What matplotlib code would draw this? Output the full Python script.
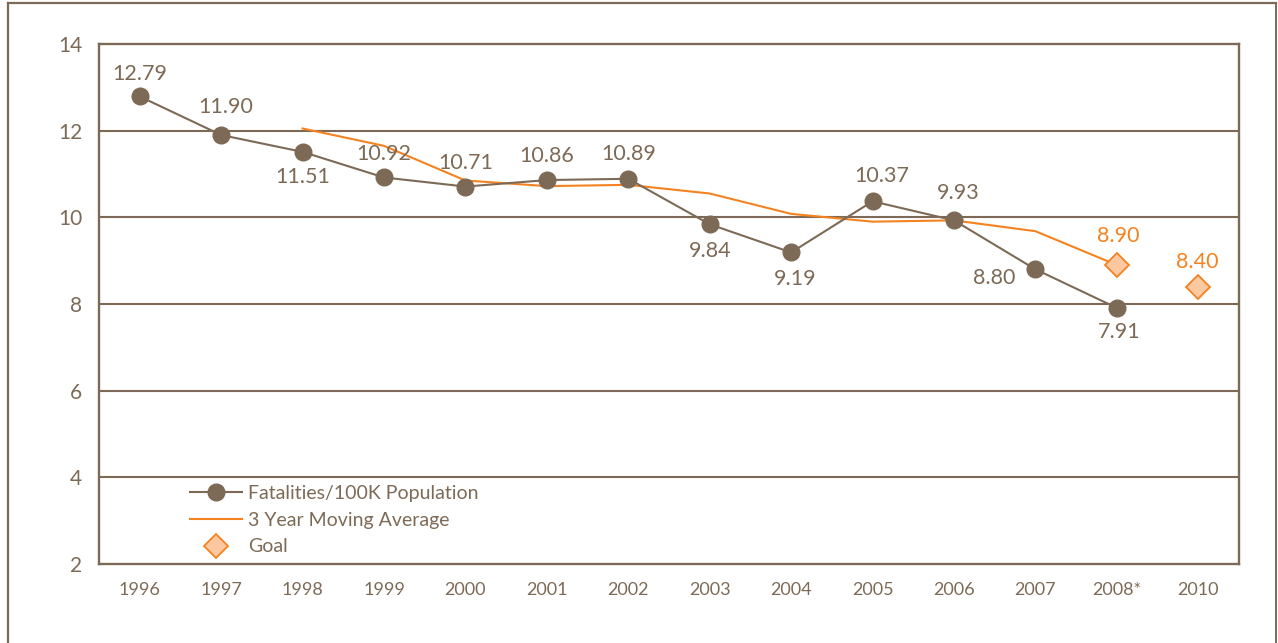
import matplotlib
matplotlib.use("Agg")
import matplotlib.pyplot as plt
from matplotlib.lines import Line2D

# --- data -------------------------------------------------------------
years = ["1996", "1997", "1998", "1999", "2000", "2001", "2002",
         "2003", "2004", "2005", "2006", "2007", "2008*", "2010"]
fatality_rate = [12.79, 11.90, 11.51, 10.92, 10.71, 10.86, 10.89,
                 9.84, 9.19, 10.37, 9.93, 8.80, 7.91]
moving_avg = [12.05, 11.65, 10.85, 10.72, 10.75, 10.55, 10.08,
              9.90, 9.93, 9.68, 8.90]          # 1998 .. 2008
goal_years = ["2008*", "2010"]
goal_values = [8.90, 8.40]
yticks = [2, 4, 6, 8, 10, 12, 14]

# label placement (offset in points from each point)
rate_label_offsets = [(0, 16), (3, 20), (0, -18), (0, 17), (0, 17), (0, 17),
                      (0, 18), (0, -19), (3, -19), (7, 18), (3, 20),
                      (-30, -6), (2, -17)]
goal_label_offsets = [(1, 21), (-1, 18)]

BROWN = "#7d6a56"
ORANGE = "#f58220"
GOAL_FILL = "#fcc8a0"

plt.rcParams["font.family"] = ["Lato", "DejaVu Sans"]

fig = plt.figure(figsize=(12.78, 6.43), dpi=100)
ax = fig.add_axes([99 / 1278, 79 / 643, 1140 / 1278, 520 / 643])

x_all = list(range(len(years)))
idx = {y: i for i, y in enumerate(years)}
x_rate = x_all[:len(fatality_rate)]
x_avg = x_all[2:2 + len(moving_avg)]
x_goal = [idx[g] for g in goal_years]

# horizontal grid
for v in yticks[1:-1]:
    ax.axhline(v, color=BROWN, lw=1.5, zorder=1)

ax.plot(x_avg, moving_avg, color=ORANGE, lw=1.5, zorder=2)
ax.plot(x_rate, fatality_rate, color=BROWN, lw=1.5, marker="o",
        markersize=12, markerfacecolor=BROWN, markeredgecolor=BROWN, zorder=3)
ax.plot(x_goal, goal_values, linestyle="none", marker="D", markersize=12,
        markerfacecolor=GOAL_FILL, markeredgecolor=ORANGE,
        markeredgewidth=1.3, zorder=4)

for xi, v, off in zip(x_rate, fatality_rate, rate_label_offsets):
    ax.annotate(f"{v:.2f}", (xi, v), xytext=off, textcoords="offset points",
                ha="center", va="center", fontsize=15.5, color=BROWN)
for xi, v, off in zip(x_goal, goal_values, goal_label_offsets):
    ax.annotate(f"{v:.2f}", (xi, v), xytext=off, textcoords="offset points",
                ha="center", va="center", fontsize=15.5, color=ORANGE)

ax.set_xlim(-0.5, len(years) - 0.5)
ax.set_ylim(2, 14)
ax.set_xticks(x_all)
ax.set_xticklabels(years)
ax.set_yticks(yticks)
ax.tick_params(axis="both", length=0, colors=BROWN)
ax.tick_params(axis="x", pad=13, labelsize=13)
ax.tick_params(axis="y", pad=12, labelsize=15)
for s in ax.spines.values():
    s.set_color(BROWN)
    s.set_linewidth(1.7)

handles = [
    Line2D([], [], color=BROWN, lw=1.5, marker="o", markersize=12),
    Line2D([], [], color=ORANGE, lw=1.5),
    Line2D([], [], linestyle="none", marker="D", markersize=12,
           markerfacecolor=GOAL_FILL, markeredgecolor=ORANGE, markeredgewidth=1.3),
]
labels = ["Fatalities/100K Population", "3 Year Moving Average", "Goal"]
leg = fig.legend(handles, labels, loc="upper left",
                 bbox_to_anchor=(190 / 1278, 1 - 485 / 643),
                 frameon=False, fontsize=14, handlelength=2.67,
                 handletextpad=0.31, labelspacing=0.5, borderpad=0,
                 borderaxespad=0)
for t in leg.get_texts():
    t.set_color(BROWN)

# outer frame (top, left, right)
fig.add_artist(Line2D([8 / 1278, 8 / 1278], [0, 1 - 3 / 643],
                      transform=fig.transFigure, color=BROWN, lw=1.6))
fig.add_artist(Line2D([8 / 1278, 1276 / 1278], [1 - 3 / 643, 1 - 3 / 643],
                      transform=fig.transFigure, color=BROWN, lw=1.6))
fig.add_artist(Line2D([1276 / 1278, 1276 / 1278], [0, 1 - 3 / 643],
                      transform=fig.transFigure, color=BROWN, lw=1.4))

fig.savefig("out.png", dpi=100)
